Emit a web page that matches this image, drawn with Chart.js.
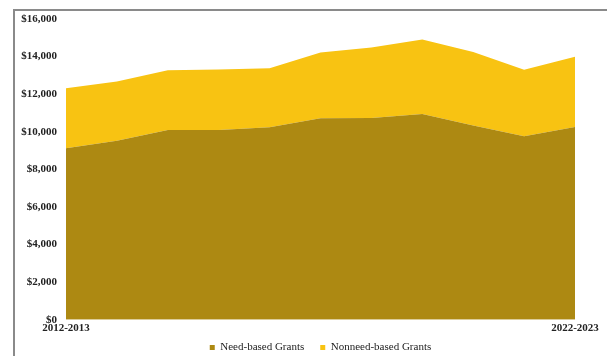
<!DOCTYPE html>
<html>
<head>
<meta charset="utf-8">
<script src="https://cdn.jsdelivr.net/npm/chart.js@4"></script>
<style>
  html, body { margin: 0; padding: 0; background: #fff; }
  #wrap { position: relative; width: 607px; height: 356px; }
  #frame {
    position: absolute; left: 13px; top: 9px; right: 0; bottom: 0;
    border-left: 2px solid #8a8a8a; border-top: 2px solid #8a8a8a;
  }
  canvas { position: absolute; left: 0; top: 0; }
</style>
</head>
<body>
<div id="wrap">
  <div id="frame"></div>
  <canvas id="grantsChart" width="607" height="356"></canvas>
</div>
<script>
// Данные графика
const years = ['2012-2013', '2013-2014', '2014-2015', '2015-2016', '2016-2017', '2017-2018',
  '2018-2019', '2019-2020', '2020-2021', '2021-2022', '2022-2023'];
const needBased = [9130, 9530, 10100, 10100, 10240, 10720, 10740, 10950, 10330, 9760, 10250];
const nonneedBased = [3190, 3150, 3170, 3220, 3140, 3500, 3750, 3960, 3920, 3540, 3740];
const yTicks = [0, 2000, 4000, 6000, 8000, 10000, 12000, 14000, 16000];

const serif = '"Liberation Serif", "Times New Roman", serif';

const ctx = document.getElementById('grantsChart').getContext('2d');
new Chart(ctx, {
  type: 'line',
  data: {
    labels: years,
    datasets: [
      {
        label: 'Need-based Grants',
        data: needBased,
        backgroundColor: '#ad8912',
        borderColor: '#ad8912',
        borderWidth: 0,
        pointRadius: 0,
        fill: 'origin',
        tension: 0,
      },
      {
        label: 'Nonneed-based Grants',
        data: nonneedBased,
        backgroundColor: '#f8c312',
        borderColor: '#f8c312',
        borderWidth: 0,
        pointRadius: 0,
        fill: '-1',
        tension: 0,
      },
    ],
  },
  options: {
    responsive: false,
    animation: false,
    layout: { padding: { left: 14, right: 32, top: 19, bottom: -7 } },
    plugins: {
      tooltip: { enabled: false },
      legend: {
        position: 'bottom',
        fullSize: false,
        labels: {
          boxWidth: 5,
          boxHeight: 5,
          padding: 5,
          color: '#222',
          font: { family: serif, size: 11 },
          // немного больше расстояния между пунктами легенды
          generateLabels: (chart) => {
            const items = Chart.defaults.plugins.legend.labels.generateLabels(chart);
            items.forEach((item, i) => {
              if (i < items.length - 1) item.text += '\u2003';
            });
            return items;
          },
        },
      },
    },
    scales: {
      x: {
        offset: false,
        grid: { display: false, drawTicks: false },
        border: { display: false },
        ticks: {
          autoSkip: false,
          maxRotation: 0,
          padding: 2,
          color: '#222',
          font: { family: serif, size: 11, weight: 'bold' },
          callback: (v, i) => (i === 0 || i === years.length - 1 ? years[i] : ''),
        },
      },
      y: {
        stacked: true,
        min: 0,
        max: 16000,
        grid: { display: false, drawTicks: false },
        border: { display: false },
        afterBuildTicks: (axis) => { axis.ticks = yTicks.map((v) => ({ value: v })); },
        afterFit: (axis) => { axis.width = 52; },
        ticks: {
          padding: 9,
          color: '#222',
          font: { family: serif, size: 11, weight: 'bold' },
          callback: (v) => '$' + v.toLocaleString('en-US'),
        },
      },
    },
  },
});
</script>
</body>
</html>
